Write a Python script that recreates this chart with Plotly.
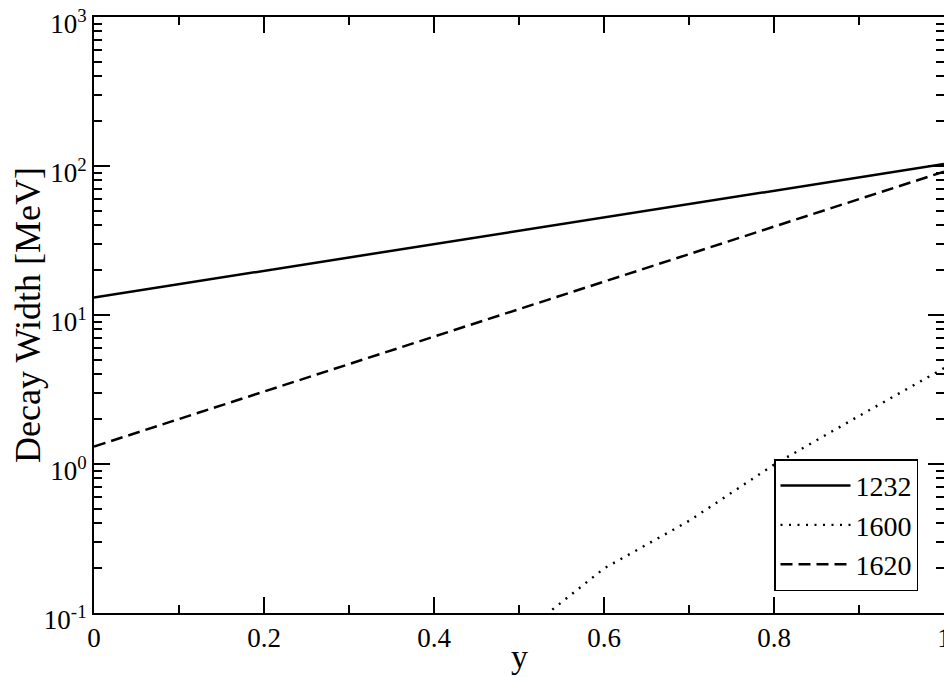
import plotly.graph_objects as go

# decay widths [MeV] vs y
y_vals = [0.0, 0.1, 0.2, 0.3, 0.4, 0.5, 0.6, 0.7, 0.8, 0.9, 1.0]
width_1232 = [13.1, 16.1, 19.8, 24.4, 30.0, 36.9, 45.4, 55.9, 68.7, 84.5, 103.0]
width_1620 = [1.31, 2.00, 3.06, 4.68, 7.15, 10.9, 16.7, 25.6, 39.2, 59.9, 91.6]

y_vals_1600 = [0.5, 0.6, 0.7, 0.8, 0.9, 1.0]
width_1600 = [0.070, 0.199, 0.415, 0.99, 2.10, 4.40]

ytick_vals = [0.1, 1, 10, 100, 1000]
ytick_text = ["10<sup>-1</sup>", "10<sup>0</sup>", "10<sup>1</sup>", "10<sup>2</sup>", "10<sup>3</sup>"]

# minor log ticks: 2..9 in every decade
decades = [0.1, 1, 10, 100]
mantissas = [2, 3, 4, 5, 6, 7, 8, 9]
minor_y = [d * m for d in decades for m in mantissas]

FONT = "Liberation Serif"

fig = go.Figure()
fig.add_trace(go.Scatter(x=y_vals, y=width_1232, mode="lines", name="1232",
                         line=dict(color="black", width=2.5)))
fig.add_trace(go.Scatter(x=y_vals_1600, y=width_1600, mode="lines", name="1600",
                         line=dict(color="black", width=2.4, dash="2px,6.5px")))
fig.add_trace(go.Scatter(x=y_vals, y=width_1620, mode="lines", name="1620",
                         line=dict(color="black", width=2.5, dash="12px,6px")))

# page body has an 8px default margin, so the figure is 8px smaller than the window
fig.update_layout(
    width=944, height=669,
    margin=dict(l=86, r=8, t=9, b=64),
    paper_bgcolor="white", plot_bgcolor="white",
    font=dict(family=FONT, color="black", size=27),
    showlegend=True,
    legend=dict(
        x=0.8, y=0.258, xanchor="left", yanchor="top",
        bgcolor="white", bordercolor="black", borderwidth=1.5,
        font=dict(size=28, family=FONT),
        itemwidth=70, tracegroupgap=0,
    ),
    annotations=[dict(
        text="y", xref="paper", yref="paper", x=0.5, y=0,
        xanchor="center", yanchor="bottom", yshift=-64, showarrow=False,
        font=dict(size=34, family=FONT, color="black"),
    )],
)

fig.update_xaxes(
    range=[0, 1], tick0=0, dtick=0.2, automargin=False,
    ticklabeloverflow="allow",
    ticks="inside", ticklen=16, tickwidth=1.5, tickcolor="black",
    minor=dict(ticks="inside", ticklen=8, tickwidth=1.5, dtick=0.1, tickcolor="black"),
    showline=True, linecolor="black", linewidth=2, mirror="ticks",
    showgrid=False, zeroline=False,
    tickfont=dict(size=27, family=FONT),
)

fig.update_yaxes(
    type="log", range=[-1.0001, 3.0001], automargin=False,
    ticklabeloverflow="allow", ticklabelshift=7,
    tickvals=ytick_vals, ticktext=ytick_text,
    ticks="inside", ticklen=16, tickwidth=1.5, tickcolor="black",
    minor=dict(ticks="inside", ticklen=8, tickwidth=1.5, tickcolor="black",
               tickvals=minor_y),
    showline=True, linecolor="black", linewidth=2, mirror="ticks",
    showgrid=False, zeroline=False,
    tickfont=dict(size=27, family=FONT),
    title=dict(text="Decay Width [MeV]", font=dict(size=36, family=FONT), standoff=34),
)

fig.write_html("out.html")
